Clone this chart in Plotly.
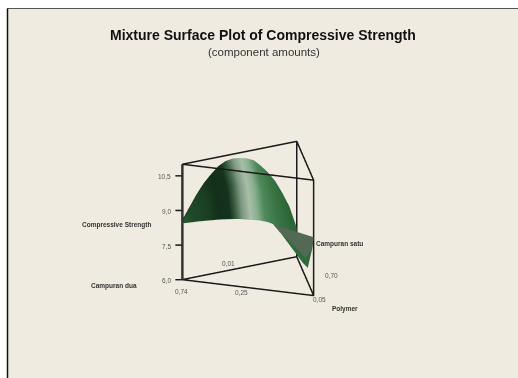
import plotly.graph_objects as go

# --- data -----------------------------------------------------------------
title = "Mixture Surface Plot of Compressive Strength"
subtitle = "(component amounts)"
z_ticks = [6.0, 7.5, 9.0, 10.5]
z_tick_labels = ["6,0", "7,5", "9,0", "10,5"]
z_top = 11.0

# Triangle corners in scene units
corner_dua = (0.0, 0.0)
corner_polymer = (132.0, -32.0)
corner_satu = (115.0, 46.0)

# Surface stations along the dua -> satu side, and positions across the surface
stations = [i / 16 for i in range(17)]
across = [0, 0.5, 1.0]
front_reach = 0.871  # how far the front edge reaches along dua -> polymer
strength_back = [8.60, 9.09, 9.58, 10.00, 10.32, 10.60, 10.76, 10.81, 10.78,
                 10.70, 10.55, 10.25, 9.89, 9.46, 8.88, 8.22, 7.25]
strength_mid = [8.50, 8.83, 9.13, 9.40, 9.60, 9.79, 9.90, 9.95, 9.95,
                9.91, 9.83, 9.67, 9.46, 9.19, 8.83, 8.42, 7.85]
strength_front = [8.44, 8.51, 8.59, 8.66, 8.72, 8.79, 8.84, 8.89, 8.93,
                  8.94, 8.96, 8.97, 8.94, 8.86, 8.77, 8.67, 8.59]
band_shift = [0.09, 0.03, 0.0]
band_colors = [
    [0.00, "#2c5a34"], [0.10, "#1f4a2a"], [0.24, "#1a3f22"], [0.32, "#12301a"], [0.42, "#15331c"],
    [0.47, "#3c5f44"], [0.53, "#7d9880"], [0.60, "#a9bea9"], [0.66, "#8ab08f"],
    [0.73, "#4f8a5c"], [0.84, "#3a7545"], [1.00, "#2c6536"],
]

# Folded piece near the polymer corner: fraction along dua -> polymer, strength
fold_gray_f = [0.69, 1.00, 0.99, 0.94, 0.833, 0.76]
fold_gray_z = [8.89, 8.54, 8.06, 7.59, 8.17, 8.47]
fold_green_f = [0.76, 0.833, 0.94, 0.99, 0.955, 0.917, 0.88]
fold_green_z = [8.47, 8.17, 7.59, 8.06, 7.18, 7.37, 7.77]

# --- geometry ---------------------------------------------------------------
ax, ay = corner_dua
bx, by = corner_polymer
cx, cy = corner_satu
xg, yg, zg, cg = [], [], [], []
for n, t in enumerate(stations):
    bk = (ax + (cx - ax) * t, ay + (cy - ay) * t)
    fr = (bx * t * front_reach, by * t * front_reach)
    xg.append([bk[0] + (fr[0] - bk[0]) * g for g in across])
    yg.append([bk[1] + (fr[1] - bk[1]) * g for g in across])
    zg.append([strength_back[n], strength_mid[n], strength_front[n]])
    cg.append([t + s for s in band_shift])

flat = dict(ambient=1, diffuse=0, specular=0, roughness=1, fresnel=0)
fig = go.Figure()
fig.add_trace(go.Surface(
    x=xg, y=yg, z=zg, surfacecolor=cg, cmin=0, cmax=1,
    colorscale=band_colors, showscale=False, hoverinfo="skip", lighting=flat,
))

def fold(fs, zs, color):
    n = len(fs)
    fig.add_trace(go.Mesh3d(
        x=[ax + (bx - ax) * f for f in fs],
        y=[ay + (by - ay) * f - 0.5 for f in fs],
        z=zs, i=[0] * (n - 2), j=list(range(1, n - 1)), k=list(range(2, n)),
        color=color, flatshading=True, hoverinfo="skip", lighting=flat,
    ))

fold(fold_green_f, fold_green_z, "#2f6b3c")
fold(fold_gray_f, fold_gray_z, "#536955")

def line(xs, ys, zs, width=3, color="#1a1a1a"):
    fig.add_trace(go.Scatter3d(x=xs, y=ys, z=zs, mode="lines", hoverinfo="skip",
                               line=dict(color=color, width=width), showlegend=False))

zb, zt = z_ticks[0], z_top
line([ax, bx, cx, ax], [ay, by, cy, ay], [zb] * 4)
line([ax, bx, cx, ax], [ay, by, cy, ay], [zt] * 4)
line([ax, ax], [ay, ay], [zb, zt], width=5, color="#333333")
line([bx, bx], [by, by], [zb, zt])
line([cx, cx], [cy, cy], [zb, zt])
for v in z_ticks:
    line([ax, ax - 7], [ay, ay], [v, v])

def note(x, y, z, text, color="#555555", bold=False, xs=0, ys=0, anchor="center"):
    return dict(x=x, y=y, z=z, text=f"<b>{text}</b>" if bold else text, showarrow=False,
                xshift=xs, yshift=ys, xanchor=anchor,
                font=dict(family="Liberation Sans, Arial, sans-serif", size=6.5, color=color))

mab = ((ax + bx) / 2, (ay + by) / 2)
mac = ((ax + cx) / 2, (ay + cy) / 2)
notes = [note(ax, ay, v, lab, xs=-9, ys=-1, anchor="right") for v, lab in zip(z_ticks, z_tick_labels)]
notes += [
    note(ax, ay, zb, "0,74", xs=-1, ys=-12),
    note(mab[0], mab[1], zb, "0,25", xs=-7, ys=-5),
    note(bx, by, zb, "0,05", xs=6, ys=-4),
    note(mac[0], mac[1], zb, "0,01", xs=-11.5, ys=4.5),
    note(bx, by, zb, "0,70", xs=18, ys=20),
    note(ax, ay, zb, "Campuran dua", color="#333333", bold=True, xs=-68.5, ys=-6),
    note(ax, ay, z_ticks[2], "Compressive Strength", color="#333333", bold=True, xs=-66, ys=-15),
    note(bx, by, zb, "Campuran satu", color="#333333", bold=True, xs=25.5, ys=51.7),
    note(bx, by, zb, "Polymer", color="#333333", bold=True, xs=31, ys=-13),
]

fig.update_layout(
    width=518, height=378, margin=dict(l=0, r=0, t=0, b=0), autosize=False,
    paper_bgcolor="#ffffff", showlegend=False,
    shapes=[
        dict(type="rect", xref="paper", yref="paper", x0=7.5 / 518, x1=1.02, y0=-0.02,
             y1=1 - 8.5 / 378, fillcolor="#f0ebe0", line=dict(color="#555555", width=1), layer="below"),
        dict(type="line", xref="paper", yref="paper", x0=7.5 / 518, x1=7.5 / 518, y0=0,
             y1=1 - 8.5 / 378, line=dict(color="#111111", width=1.5), layer="below"),
    ],
    annotations=[
        dict(x=263 / 518, y=1 - 35 / 378, xref="paper", yref="paper", text=f"<b>{title}</b>",
             showarrow=False, xanchor="center", yanchor="middle",
             font=dict(family="Liberation Sans, Arial, sans-serif", size=14, color="#111111")),
        dict(x=264 / 518, y=1 - 52 / 378, xref="paper", yref="paper", text=subtitle,
             showarrow=False, xanchor="center", yanchor="middle",
             font=dict(family="Liberation Sans, Arial, sans-serif", size=11.5, color="#333333")),
    ],
    scene=dict(
        domain=dict(x=[48 / 518, 448 / 518], y=[60 / 378, 259 / 378]),
        xaxis=dict(visible=False, range=[-10, 142]),
        yaxis=dict(visible=False, range=[-40, 54]),
        zaxis=dict(visible=False, range=[5.5, 11.5]),
        aspectmode="manual",
        aspectratio=dict(x=1.52, y=0.94, z=6 * 23.2 / 0.866 / 100),
        camera=dict(projection=dict(type="orthographic"), up=dict(x=0, y=0, z=1),
                    center=dict(x=0, y=0, z=0), eye=dict(x=0, y=-1.73, z=1.0)),
        annotations=notes,
    ),
)
fig.write_html("out.html", config=dict(displayModeBar=False),
               post_script="document.body.style.margin='0';document.body.style.overflow='hidden';")
